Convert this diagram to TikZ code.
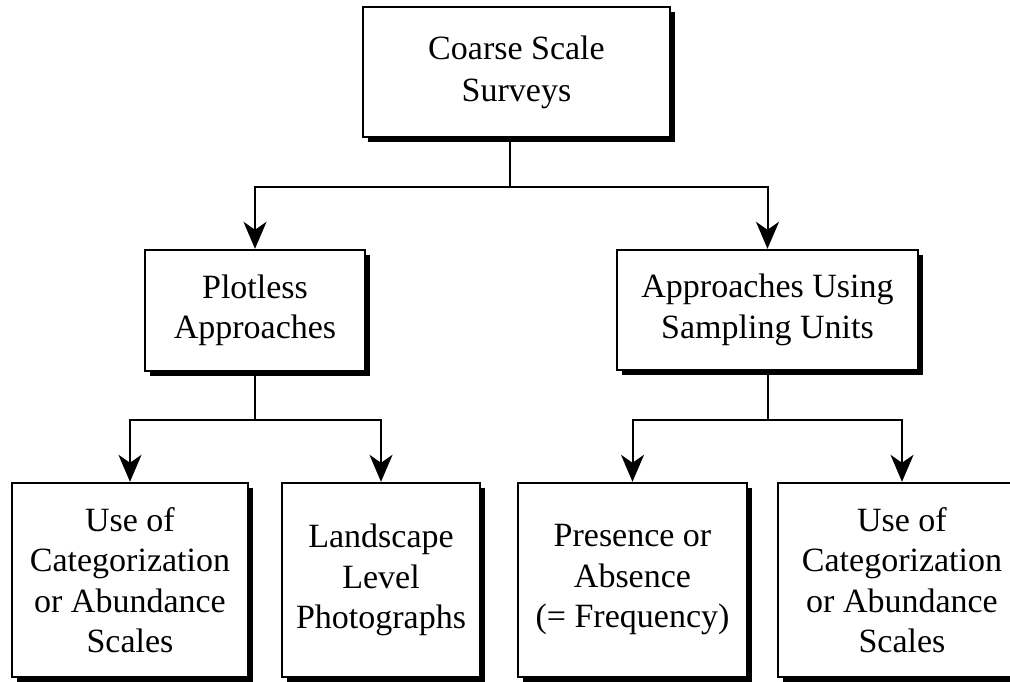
\documentclass[tikz,border=0pt]{standalone}
\usepackage{fontspec}
\setmainfont{Liberation Serif}
\usetikzlibrary{arrows.meta,shadows}
\begin{document}
\begin{tikzpicture}[x=1pt,y=-1pt,
  box/.style={draw, line width=2.4pt, fill=white, align=center, inner sep=0pt,
    font=\fontsize{34}{40.5}\selectfont,
    execute at begin node={\rule{0pt}{41pt}},
    drop shadow={shadow xshift=5pt, shadow yshift=-5pt, fill=black, opacity=1}},
  conn/.style={line width=2pt},
  arr/.style={conn, -{Stealth[length=27pt,width=23pt,inset=8pt]}}]
\useasboundingbox (0,0) rectangle (1010,682);
\begin{scope}
\clip (0,0) rectangle (1010,682);
\node[box, minimum width=307pt, minimum height=130pt] (top) at (516.5,72) {Coarse Scale\\[1.5pt]Surveys};
\node[box, minimum width=220pt, minimum height=121pt] (plot) at (255,310.5) {Plotless\\Approaches};
\node[box, minimum width=301pt, minimum height=120pt] (samp) at (767.5,310) {Approaches Using\\Sampling Units};
\node[box, minimum width=236pt, minimum height=194pt] (b1) at (130,580) {Use of\\Categorization\\or Abundance\\Scales};
\node[box, minimum width=198pt, minimum height=194pt] (b2) at (381,580) {Landscape\\Level\\Photographs};
\node[box, minimum width=229pt, minimum height=194pt] (b3) at (632.5,580) {Presence or\\Absence\\(= Frequency)};
\node[box, minimum width=248pt, minimum height=194pt] (b4) at (902,580) {Use of\\Categorization\\or Abundance\\Scales};
\end{scope}
\coordinate (j0) at (510,187);
\coordinate (j1) at (255,420);
\coordinate (j2) at (767.5,420);
\draw[conn] (top.south -| j0) -- (j0);
\draw[arr] (j0) -| (plot.north);
\draw[arr] (j0) -| (samp.north);
\draw[conn] (plot.south) -- (j1);
\draw[arr] (j1) -| (b1.north);
\draw[arr] (j1) -| (b2.north);
\draw[conn] (samp.south) -- (j2);
\draw[arr] (j2) -| (b3.north);
\draw[arr] (j2) -| (b4.north);
\end{tikzpicture}
\end{document}
